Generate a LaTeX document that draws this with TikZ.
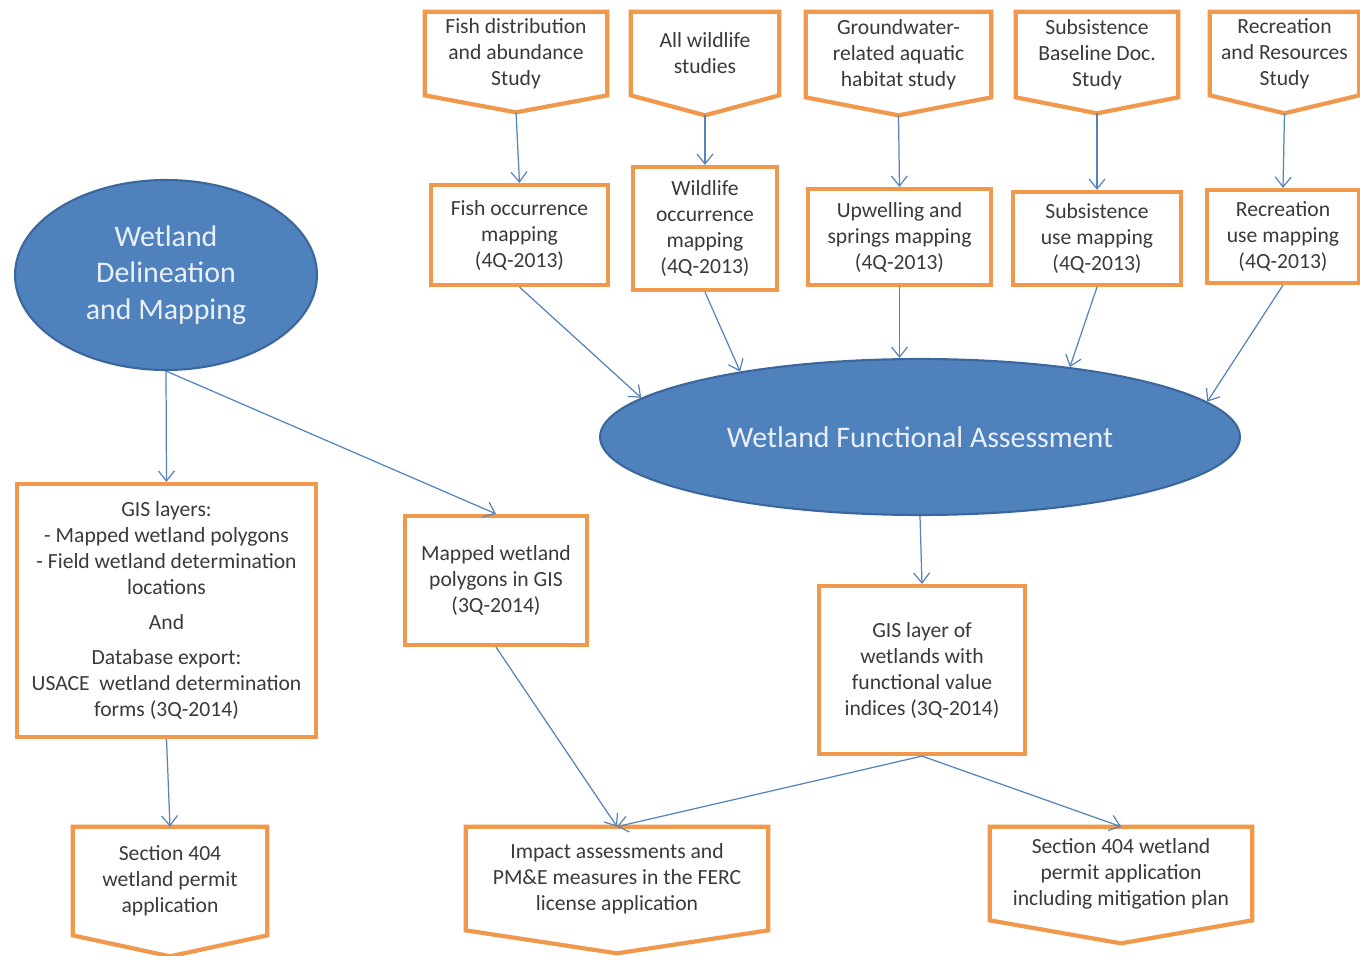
\documentclass[tikz,border=0pt]{standalone}
\usepackage{fontspec}
\setmainfont{Carlito}
\usepackage{tikz}
\usetikzlibrary{shapes.geometric, positioning, calc, arrows.meta}

\begin{document}
\begin{tikzpicture}[x=0.02cm, y=-0.02cm,
  caixa/.style={draw=laranja, line width=2.4pt, align=center, text=texto, inner sep=2pt,
    font=\fontsize{12.3}{14.8}\selectfont},
  bandeira/.style={align=center, text=texto, inner sep=2pt,
    font=\fontsize{12.3}{14.8}\selectfont},
  contorno/.style={draw=laranja, line width=2.4pt, line join=miter},
  elipse/.style={ellipse, draw=azulborda, line width=1.2pt, fill=azul, text=textoclaro,
    align=center, font=\fontsize{17}{20.7}\selectfont},
  seta/.style={draw=linha, line width=0.7pt, -{Straight Barb[length=0.2cm, width=0.32cm]}}]
% --- CORES HEX ---
\definecolor{laranja}{HTML}{F0984C}
\definecolor{azul}{HTML}{4F81BD}
\definecolor{azulborda}{HTML}{3B679C}
\definecolor{linha}{HTML}{5583BB}
\definecolor{texto}{HTML}{3A3A3A}
\definecolor{textoclaro}{HTML}{EAF0F8}

\fill[white] (0,0) rectangle (1360,956);
\useasboundingbox (0,0) rectangle (1360,956);

% LAYER 1: Estudos (topo)
\node[bandeira, minimum width=3.64cm, minimum height=1.66cm] (fishStudy) at (516,53.5) {Fish distribution\\and abundance\\Study};
\node[bandeira, minimum width=2.96cm, minimum height=1.66cm] (wildStudy) at (705,53.5) {All wildlife\\studies};
\node[bandeira, minimum width=3.70cm, minimum height=1.70cm] (gwStudy) at (898.5,54.5) {Groundwater-\\related aquatic\\habitat study};
\node[bandeira, minimum width=3.24cm, minimum height=1.70cm] (subStudy) at (1097,54.5) {Subsistence\\Baseline Doc.\\Study};
\node[bandeira, minimum width=2.98cm, minimum height=1.66cm] (recStudy) at (1284.5,53.5) {Recreation\\and Resources\\Study};

% LAYER 2: Mapeamentos
\node[caixa, minimum width=3.54cm, minimum height=2.00cm] (fishMap) at (519.5,235) {Fish occurrence\\mapping\\(4Q-2013)};
\node[caixa, minimum width=2.88cm, minimum height=2.46cm] (wildMap) at (705,228.5) {Wildlife\\occurrence\\mapping\\(4Q-2013)};
\node[caixa, minimum width=3.66cm, minimum height=1.92cm] (upMap) at (899.5,237) {Upwelling and\\springs mapping\\(4Q-2013)};
\node[caixa, minimum width=3.36cm, minimum height=1.86cm] (subMap) at (1097,238.5) {Subsistence\\use mapping\\(4Q-2013)};
\node[caixa, minimum width=3.04cm, minimum height=1.86cm] (recMap) at (1283,236.5) {Recreation\\use mapping\\(4Q-2013)};

% LAYER 3: Elipses
\node[elipse, minimum width=6.04cm, minimum height=3.80cm] (dwm) at (166,275) {Wetland\\Delineation\\and Mapping};
\node[elipse, minimum width=12.80cm, minimum height=3.12cm] (wfa) at (920,437) {Wetland Functional Assessment};

% LAYER 4: Produtos
\node[caixa, minimum width=5.98cm, minimum height=5.06cm] (gisLayers) at (166.5,610.5) {GIS layers:\\- Mapped wetland polygons\\- Field wetland determination\\locations\\[5pt]And\\[5pt]Database export:\\USACE~ wetland determination\\forms (3Q-2014)};
\node[caixa, minimum width=3.64cm, minimum height=2.58cm] (mapped) at (496,580.5) {Mapped wetland\\polygons in GIS\\(3Q-2014)};
\node[caixa, minimum width=4.12cm, minimum height=3.36cm] (gisVal) at (922,670) {GIS layer of\\wetlands with\\functional value\\indices (3Q-2014)};

% LAYER 5: Aplicacoes (base)
\node[bandeira, minimum width=3.88cm, minimum height=2.16cm] (sec404) at (170,881) {Section 404\\wetland permit\\application};
\node[bandeira, minimum width=6.04cm, minimum height=2.06cm] (impact) at (617,878.5) {Impact assessments and\\PM\&E measures in the FERC\\license application};
\node[bandeira, minimum width=5.24cm, minimum height=1.86cm] (sec404b) at (1121,873.5) {Section 404 wetland\\permit application\\including mitigation plan};

% contornos com ponta
\foreach \n/\d in {fishStudy/17, wildStudy/20, gwStudy/18, subStudy/16, recStudy/18, sec404/21, impact/23, sec404b/23}
  \draw[contorno] (\n.north west) -- (\n.north east) -- (\n.south east) -- ($(\n.south)+(0,\d)$) coordinate (\n-tip) -- (\n.south west) -- cycle;

% LAYER 6: Setas
\foreach \a/\b in {fishStudy/fishMap, wildStudy/wildMap, gwStudy/upMap, subStudy/subMap, recStudy/recMap}
  \draw[seta] (\a-tip) -- (\b.north);
\draw[seta] (fishMap.south) -- (wfa.172.5);
\draw[seta] (wildMap.south) -- (wfa.160);
\draw[seta] (upMap.south) -- (upMap.south |- wfa.north);
\draw[seta] (subMap.south) -- (wfa.25);
\draw[seta] (recMap.south) -- (wfa.7.6);
\draw[seta] (dwm.south) -- (gisLayers.north);
\draw[seta] (dwm.south) -- (mapped.north);
\draw[seta] (gisLayers.south) -- (sec404.north);
\draw[seta] (wfa.south) -- (gisVal.north);
\draw[seta] (mapped.south) -- (impact.north);
\draw[seta] (gisVal.south) -- (impact.north);
\draw[seta] (gisVal.south) -- (sec404b.north);
\end{tikzpicture}
\end{document}
